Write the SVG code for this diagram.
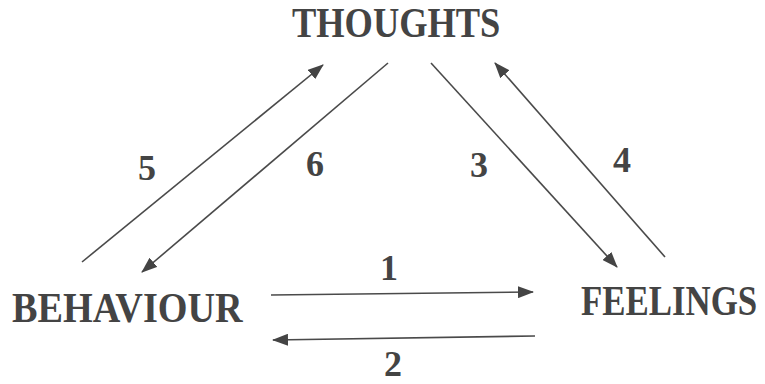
<svg xmlns="http://www.w3.org/2000/svg" width="765" height="384" viewBox="0 0 765 384">
<style>
.lbl{font-family:"Liberation Serif","DejaVu Serif",serif;font-weight:bold;fill:#444;}
.node{font-size:42px;}
.num{font-size:36px;}
.c{stroke:#4a4a4a;stroke-width:1.6;fill:none;marker-end:url(#ah);}
</style>
<defs>
<marker id="ah" viewBox="0 0 16 12" refX="15" refY="6" markerWidth="16" markerHeight="12" markerUnits="userSpaceOnUse" orient="auto">
<path d="M0,0 L16,6 L0,12 Z" fill="#444"/>
</marker>
</defs>
<rect width="765" height="384" fill="#fff"/>
<g id="thoughts"><text class="lbl node" transform="translate(292,37) scale(0.867,1)">THOUGHTS</text></g>
<g id="behaviour"><text class="lbl node" transform="translate(12,322) scale(0.91,1)">BEHAVIOUR</text></g>
<g id="feelings"><text class="lbl node" transform="translate(581,315) scale(0.83,1)">FEELINGS</text></g>
<g id="connectors">
<line class="c" x1="82" y1="262" x2="323" y2="65"/>
<line class="c" x1="388" y1="63" x2="142" y2="272"/>
<line class="c" x1="431" y1="63" x2="617" y2="267"/>
<line class="c" x1="665" y1="257" x2="495" y2="63"/>
<line class="c" x1="271" y1="295" x2="533" y2="292"/>
<line class="c" x1="535" y1="336" x2="273" y2="340"/>
</g>
<g id="labels">
<text class="lbl num" x="138" y="180">5</text>
<text class="lbl num" x="306" y="176">6</text>
<text class="lbl num" x="470" y="177">3</text>
<text class="lbl num" x="613" y="172">4</text>
<text class="lbl num" x="380" y="280">1</text>
<text class="lbl num" x="384" y="376">2</text>
</g>
</svg>
